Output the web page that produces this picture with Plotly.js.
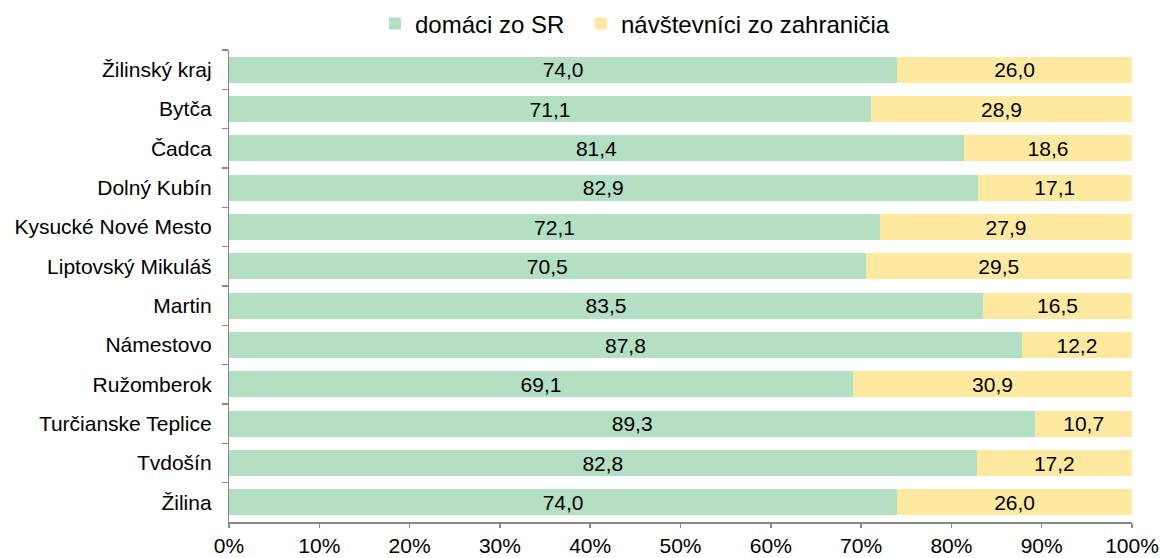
<!DOCTYPE html>
<html><head><meta charset="utf-8">
<script src="https://cdn.plot.ly/plotly-3.0.1.min.js"></script>
<style>html,body{margin:0;padding:0;background:#fff}#c{width:1160px;height:558px}</style>
</head><body><div id="c"></div>
<script>
const categories = ["Žilinský kraj","Bytča","Čadca","Dolný Kubín","Kysucké Nové Mesto","Liptovský Mikuláš","Martin","Námestovo","Ružomberok","Turčianske Teplice","Tvdošín","Žilina"];
const domaci = [74.0,71.1,81.4,82.9,72.1,70.5,83.5,87.8,69.1,89.3,82.8,74.0];
const zahranicie = [26.0,28.9,18.6,17.1,27.9,29.5,16.5,12.2,30.9,10.7,17.2,26.0];
const seriesNames = ["domáci zo SR","návštevníci zo zahraničia"];
const xTicks = [0,10,20,30,40,50,60,70,80,90,100];

const fam = "Liberation Sans, Arial, sans-serif";
const font = {family:fam, size:21, color:"#000"};
const common = {type:"bar", orientation:"h", y:categories, texttemplate:"%{x:.1f}", textposition:"inside", insidetextanchor:"middle", constraintext:"none", textfont:{family:fam,size:21,color:"#000"}, hoverinfo:"skip", cliponaxis:false};
const traces = [
  Object.assign({}, common, {name:seriesNames[0], x:domaci, marker:{color:"#b3dfc3"}, legend:"legend"}),
  Object.assign({}, common, {name:seriesNames[1], x:zahranicie, marker:{color:"#fee9a1"}, legend:"legend2"})
];
const legBase = {orientation:"h", xref:"container", xanchor:"left", y:1-24/558, yref:"container", yanchor:"middle", font:{family:fam,size:24,color:"#000"}, bgcolor:"rgba(0,0,0,0)"};
const layout = {
  width:1160, height:558, barmode:"stack", bargap:0.34, separators:", ",
  font:font, paper_bgcolor:"#fff", plot_bgcolor:"#fff",
  margin:{l:229, r:28, t:50, b:36},
  showlegend:true,
  legend:Object.assign({}, legBase, {x:375/1160}),
  legend2:Object.assign({}, legBase, {x:581/1160}),
  xaxis:{range:[0,100], tickvals:xTicks, ticktext:xTicks.map(v=>v+"%"), showgrid:false, zeroline:false, showline:true, linecolor:"#888", linewidth:1.5, ticks:"outside", ticklen:4, tickcolor:"#888", tickwidth:1.5, tickfont:{family:fam,size:21,color:"#000"}},
  yaxis:{autorange:"reversed", type:"category", showgrid:false, zeroline:false, showline:true, linecolor:"#888", linewidth:1.5, ticks:"outside", tickson:"boundaries", ticklen:6, tickcolor:"#888", tickwidth:1.5, ticksuffix:"  ", tickfont:{family:fam,size:21,color:"#000"}}
};
Plotly.newPlot("c", traces, layout, {displayModeBar:false, staticPlot:true});
</script></body></html>
